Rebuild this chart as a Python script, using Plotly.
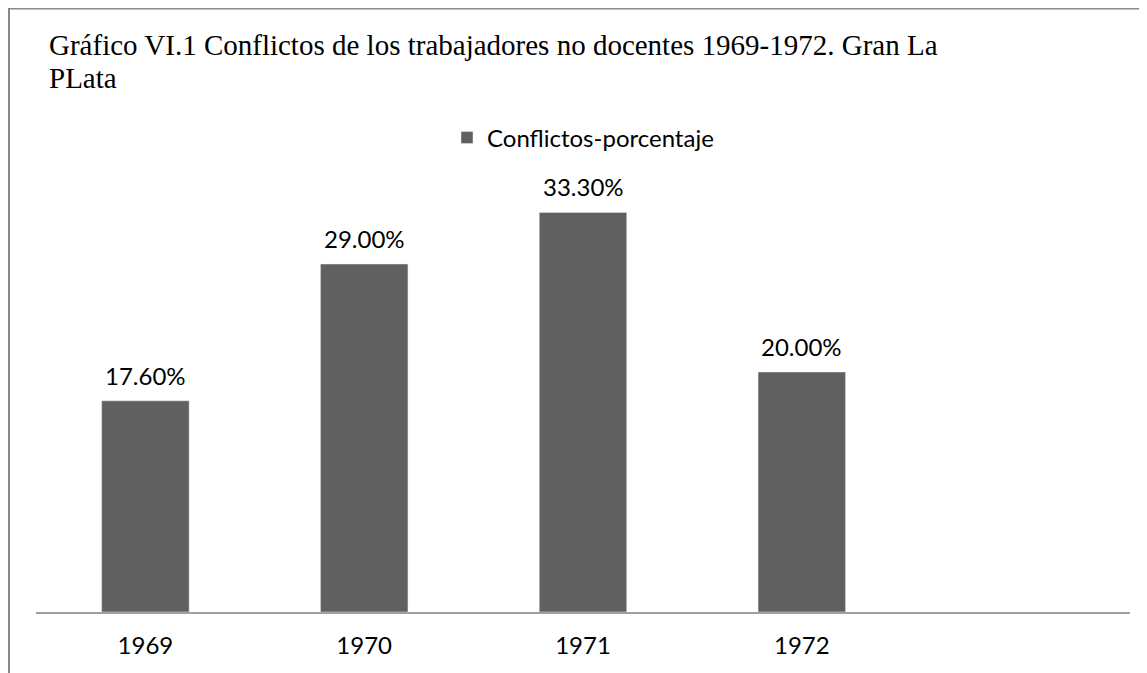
import plotly.graph_objects as go

years = ["1969", "1970", "1971", "1972"]
values = [17.6, 29.0, 33.3, 20.0]
labels = ["17.60%", "29.00%", "33.30%", "20.00%"]
series_name = "Conflictos-porcentaje"
title_lines = ["Gráfico VI.1 Conflictos de los trabajadores no docentes 1969-1972. Gran La",
               "PLata"]

W, H = 1147, 673
OFF = 8  # page body margin offset
# plot area in screen (reference) pixels
PX0, PX1, PY0, PY1 = 36, 1130, 132, 612
L = PX0 - OFF
R = W - (PX1 - OFF)
T = PY0 - OFF
B = H - (PY1 - OFF)
pw, ph = W - L - R, H - T - B


def px2x(px):
    return (px - OFF - L) / pw


def py2y(py):
    return (H - B - (py - OFF)) / ph


xs = list(range(len(years)))
bar_color = "#606060"
lab_font = dict(family="Lato", size=24, color="#000000")
title_font = dict(family="Liberation Serif", size=29, color="#000000")

fig = go.Figure()
fig.add_trace(go.Bar(x=xs, y=values, name=series_name, marker_color=bar_color,
                     width=0.4, showlegend=True))

for xi, v, t in zip(xs, values, labels):
    fig.add_annotation(x=xi, y=v, text=t, showarrow=False, yanchor="bottom",
                       yshift=9, font=lab_font)

for i, line in enumerate(title_lines):
    fig.add_annotation(xref="paper", yref="paper", x=px2x(47), y=py2y(45 + 33 * i),
                       xanchor="left", yanchor="middle", text=line, showarrow=False,
                       font=title_font)

fig.update_layout(
    width=W, height=H,
    margin=dict(l=L, r=R, t=T, b=B),
    paper_bgcolor="white", plot_bgcolor="white",
    showlegend=True,
    legend=dict(orientation="h", x=0.5, xanchor="center", y=py2y(138), yanchor="middle",
                font=lab_font, bgcolor="rgba(0,0,0,0)", itemwidth=30),
    xaxis=dict(range=[-0.5, 4.5], tickvals=xs, ticktext=years, showgrid=False,
               zeroline=False, showline=True, linecolor="#a0a0a0", linewidth=1.5,
               ticks="outside", ticklen=11, tickcolor="rgba(0,0,0,0)",
               tickfont=lab_font),
    yaxis=dict(range=[0, 40], visible=False, showgrid=False, zeroline=False),
    shapes=[
        dict(type="line", xref="paper", yref="paper", x0=px2x(OFF), x1=px2x(W + 20),
             y0=py2y(OFF + 0.75), y1=py2y(OFF + 0.75), line=dict(color="#888888", width=1.5)),
        dict(type="line", xref="paper", yref="paper", x0=px2x(OFF + 1), x1=px2x(OFF + 1),
             y0=py2y(OFF), y1=py2y(H + 20), line=dict(color="#888888", width=2)),
    ],
    bargap=0.6,
)

fig.write_html("out.html")
